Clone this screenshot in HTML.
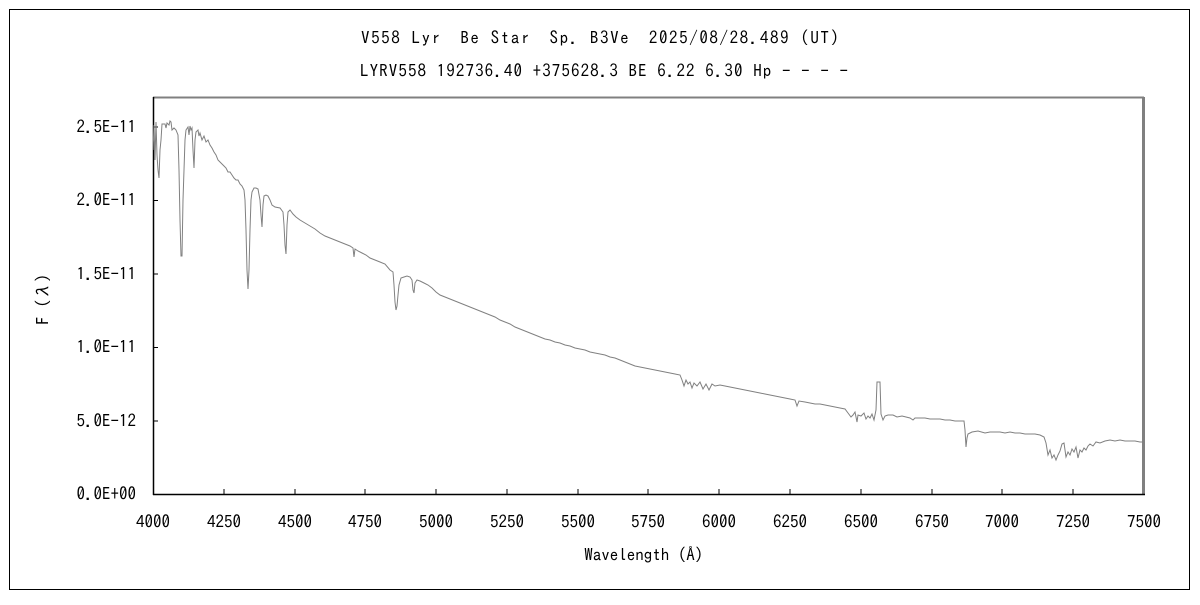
<!DOCTYPE html>
<html><head><meta charset="utf-8"><style>
body{margin:0;background:#fff;}
svg text{font-family:"IPAGothic","Liberation Sans",sans-serif;fill:#000;}
</style></head><body>
<svg width="1200" height="600" xmlns="http://www.w3.org/2000/svg">
<rect x="9.5" y="9.5" width="1180" height="580" fill="#fff" stroke="#000" stroke-width="1"/>
<text x="600" y="44" font-size="17" text-anchor="middle" textLength="478">V558 Lyr　Be Star　Sp. B3Ve　2025/08/28.489 (UT)</text>
<text x="604" y="77" font-size="17" text-anchor="middle" textLength="488">LYRV558 192736.40 +375628.3 BE 6.22 6.30 Hp - - - -</text>
<line x1="153" y1="97.5" x2="1144" y2="97.5" stroke="#808080" stroke-width="2"/>
<line x1="1143.5" y1="97" x2="1143.5" y2="494" stroke="#808080" stroke-width="3"/>
<line x1="153.5" y1="97" x2="153.5" y2="495" stroke="#000" stroke-width="1.5"/>
<line x1="153" y1="494.5" x2="1145" y2="494.5" stroke="#000" stroke-width="1.5"/>
<g stroke="#000" stroke-width="1">
<line x1="153" y1="421" x2="158" y2="421"/><line x1="153" y1="347.5" x2="158" y2="347.5"/>
<line x1="153" y1="274" x2="158" y2="274"/><line x1="153" y1="200.5" x2="158" y2="200.5"/>
<line x1="153" y1="127" x2="158" y2="127"/>
<line x1="224" y1="494" x2="224" y2="489"/><line x1="295" y1="494" x2="295" y2="489"/>
<line x1="365" y1="494" x2="365" y2="489"/><line x1="436" y1="494" x2="436" y2="489"/>
<line x1="507" y1="494" x2="507" y2="489"/><line x1="578" y1="494" x2="578" y2="489"/>
<line x1="648" y1="494" x2="648" y2="489"/><line x1="719" y1="494" x2="719" y2="489"/>
<line x1="790" y1="494" x2="790" y2="489"/><line x1="861" y1="494" x2="861" y2="489"/>
<line x1="932" y1="494" x2="932" y2="489"/><line x1="1002" y1="494" x2="1002" y2="489"/>
<line x1="1073" y1="494" x2="1073" y2="489"/>
</g>
<g font-size="17" text-anchor="end">
<text x="136" y="500">0.0E+00</text><text x="136" y="427">5.0E-12</text>
<text x="136" y="353">1.0E-11</text><text x="136" y="280">1.5E-11</text>
<text x="136" y="206">2.0E-11</text><text x="136" y="133">2.5E-11</text>
</g>
<g font-size="17" text-anchor="middle">
<text x="153" y="528">4000</text><text x="224" y="528">4250</text><text x="295" y="528">4500</text>
<text x="365" y="528">4750</text><text x="436" y="528">5000</text><text x="507" y="528">5250</text>
<text x="578" y="528">5500</text><text x="648" y="528">5750</text><text x="719" y="528">6000</text>
<text x="790" y="528">6250</text><text x="861" y="528">6500</text><text x="932" y="528">6750</text>
<text x="1002" y="528">7000</text><text x="1073" y="528">7250</text><text x="1144" y="528">7500</text>
</g>
<text x="648" y="561" font-size="17" text-anchor="middle">Wavelength（Å）</text>
<text transform="translate(49,295) rotate(-90)" font-size="17" text-anchor="middle">F（λ）</text>
<polyline fill="none" stroke="#808080" stroke-width="1" points="
153,150 154,125 155,160 156,122 157,155 158,170 159,178 160,150 161,140 162,124 165,124 166,128 167,123 169,125 170,121 171,122 172,130 174,128 176,130 178,135 179,170 180,220 181,256 182,256 183,200 184,170 185,140 186,130 188,127 189,135 190,126 191,130 192,128 193,150 194,168 195,140 196,132 198,130 199,136 200,133 202,140 204,136 206,142 208,140 210,145 212,148 214,152 216,155 218,160 220,162 222,164 224,166 226,168 228,172 230,172 232,175 234,178 236,180 238,180 240,184 242,186 244,190 245,200 246,230 247,270 248,289 249,270 250,230 251,200 252,192 254,188 256,188 258,189 260,200 261,215 262,227 263,205 264,196 266,195 268,196 270,200 272,205 275,207 280,208 283,212 284,225 285,245 286,254 287,225 288,212 290,210 293,214 296,217 300,220 305,223 310,226 315,229 320,233 325,236 330,238 335,240 340,242 345,244 350,246 353,248 354,257 355,249 358,251 362,253 366,255 370,258 375,260 380,262 385,264 390,270 393,272 394,285 395,302 396,310 397,306 398,295 399,285 401,278 404,277 407,276 410,277 412,280 413,290 414,293 415,283 417,280 420,281 424,283 428,285 432,288 436,292 440,295 445,297 450,299 455,301 460,303 465,305 470,307 475,309 480,311 485,313 490,315 495,317 500,320 505,322 510,324 515,327 520,329 525,331 530,333 535,335 540,337 545,339 550,340 555,342 560,343 565,345 570,346 575,348 580,349 585,350 590,352 595,353 600,354 605,355 610,357 615,358 620,360 625,362 630,364 635,366 640,367 645,368 650,369 655,370 660,371 665,372 670,373 675,374 680,375 682,380 684,386 686,380 688,384 690,382 692,388 694,383 697,386 700,382 703,389 706,384 709,390 712,384 715,386 720,385 725,386 730,387 735,388 740,389 745,390 750,391 755,392 760,393 765,394 770,395 775,396 780,397 785,398 790,399 795,400 797,406 799,401 805,402 810,403 815,404 820,404 825,405 830,406 835,407 840,408 845,409 848,413 851,417 853,415 855,412 857,422 858,415 861,416 864,413 866,419 868,416 870,418 872,414 874,420 876,410 877,382 880,382 881,414 883,420 885,416 888,415 893,415 897,417 902,416 906,417 910,418 913,420 915,418 920,418 925,418 930,419 935,419 940,419 945,420 950,420 955,421 960,421 964,421 965,430 966,447 967,438 968,434 972,432 978,431 985,433 990,432 995,432 1000,432 1005,433 1010,432 1015,433 1020,433 1025,434 1030,434 1035,434 1040,435 1044,437 1046,443 1048,455 1050,450 1052,458 1054,455 1056,460 1058,455 1060,451 1062,444 1064,443 1066,457 1068,452 1070,455 1072,449 1074,452 1076,447 1078,458 1080,450 1082,452 1084,448 1086,450 1088,446 1090,444 1093,446 1096,442 1100,443 1105,441 1110,440 1115,441 1120,440 1125,441 1130,441 1135,441 1140,442 1144,442"/>
</svg>
</body></html>
